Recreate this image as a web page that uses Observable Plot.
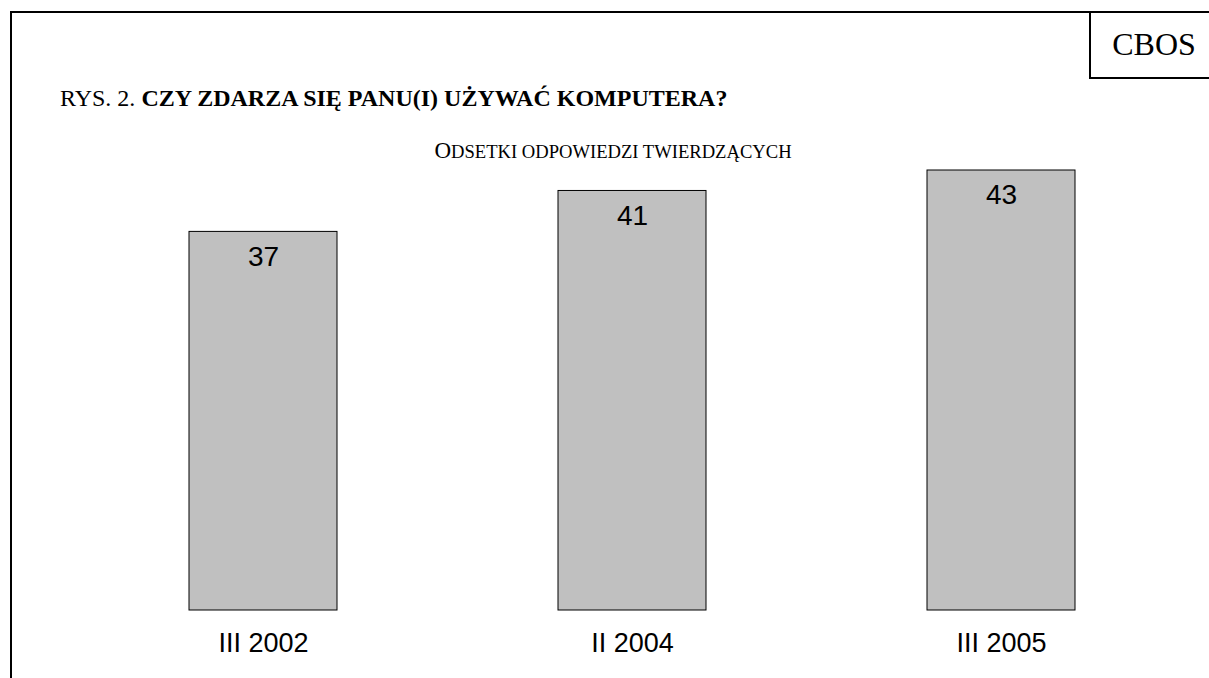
<!DOCTYPE html>
<html><head><meta charset="utf-8">
<script src="https://cdn.jsdelivr.net/npm/d3@7"></script>
<script src="https://cdn.jsdelivr.net/npm/@observablehq/plot@0.6"></script>
<style>
body{margin:0;background:#fff;}
#wrap{position:relative;width:1209px;height:678px;overflow:hidden;background:#fff;}
#wrap svg{position:absolute;left:0;top:0;}
.ln{position:absolute;background:#000;}
.t{position:absolute;font-family:"Liberation Serif","Times New Roman",serif;color:#000;white-space:nowrap;line-height:1;}
</style></head><body>
<div id="wrap">
  <div id="chart"></div>
  <div class="ln" style="left:10px;top:11px;width:1199px;height:2px"></div>
  <div class="ln" style="left:10px;top:11px;width:2px;height:667px"></div>
  <div class="ln" style="left:1089px;top:11px;width:2px;height:68px"></div>
  <div class="ln" style="left:1089px;top:77px;width:120px;height:2px"></div>
  <div class="t" style="left:1095px;width:118px;top:28px;font-size:32px;text-align:center">CBOS</div>
  <div class="t" style="left:60px;top:86px;font-size:24px">RYS. 2. <b>CZY ZDARZA SIĘ PANU(I) UŻYWAĆ KOMPUTERA?</b></div>
  <div class="t" style="left:313px;width:600px;top:139px;font-size:23px;text-align:center">O<span style="font-size:18.6px">DSETKI ODPOWIEDZI TWIERDZĄCYCH</span></div>
</div>
<script>
const categories = ["III 2002", "II 2004", "III 2005"];
const values = [37, 41, 43];
const data = categories.map((c, i) => ({period: c, value: values[i]}));

const chart = Plot.plot({
  width: 1209,
  height: 678,
  marginLeft: 78,
  marginRight: 23,
  marginTop: 170,
  marginBottom: 68,
  style: {background: "transparent", overflow: "visible"},
  x: {domain: categories, paddingInner: 0.6, paddingOuter: 0.3, label: null},
  y: {domain: [0, 43], axis: null},
  marks: [
    Plot.barY(data, {x: "period", y: "value", fill: "#c0c0c0", stroke: "#000", strokeWidth: 1}),
    Plot.text(data, {x: "period", y: "value", text: d => String(d.value), dy: 25, fontSize: 28,
      fontFamily: "Liberation Sans, Arial, sans-serif", fill: "#000", lineAnchor: "middle"}),
    Plot.axisX({tickSize: 0, tickPadding: 22, fontSize: 27, fontFamily: "Liberation Sans, Arial, sans-serif", label: null, fill: "#000"})
  ]
});
document.getElementById("chart").appendChild(chart);
</script>
</body></html>
